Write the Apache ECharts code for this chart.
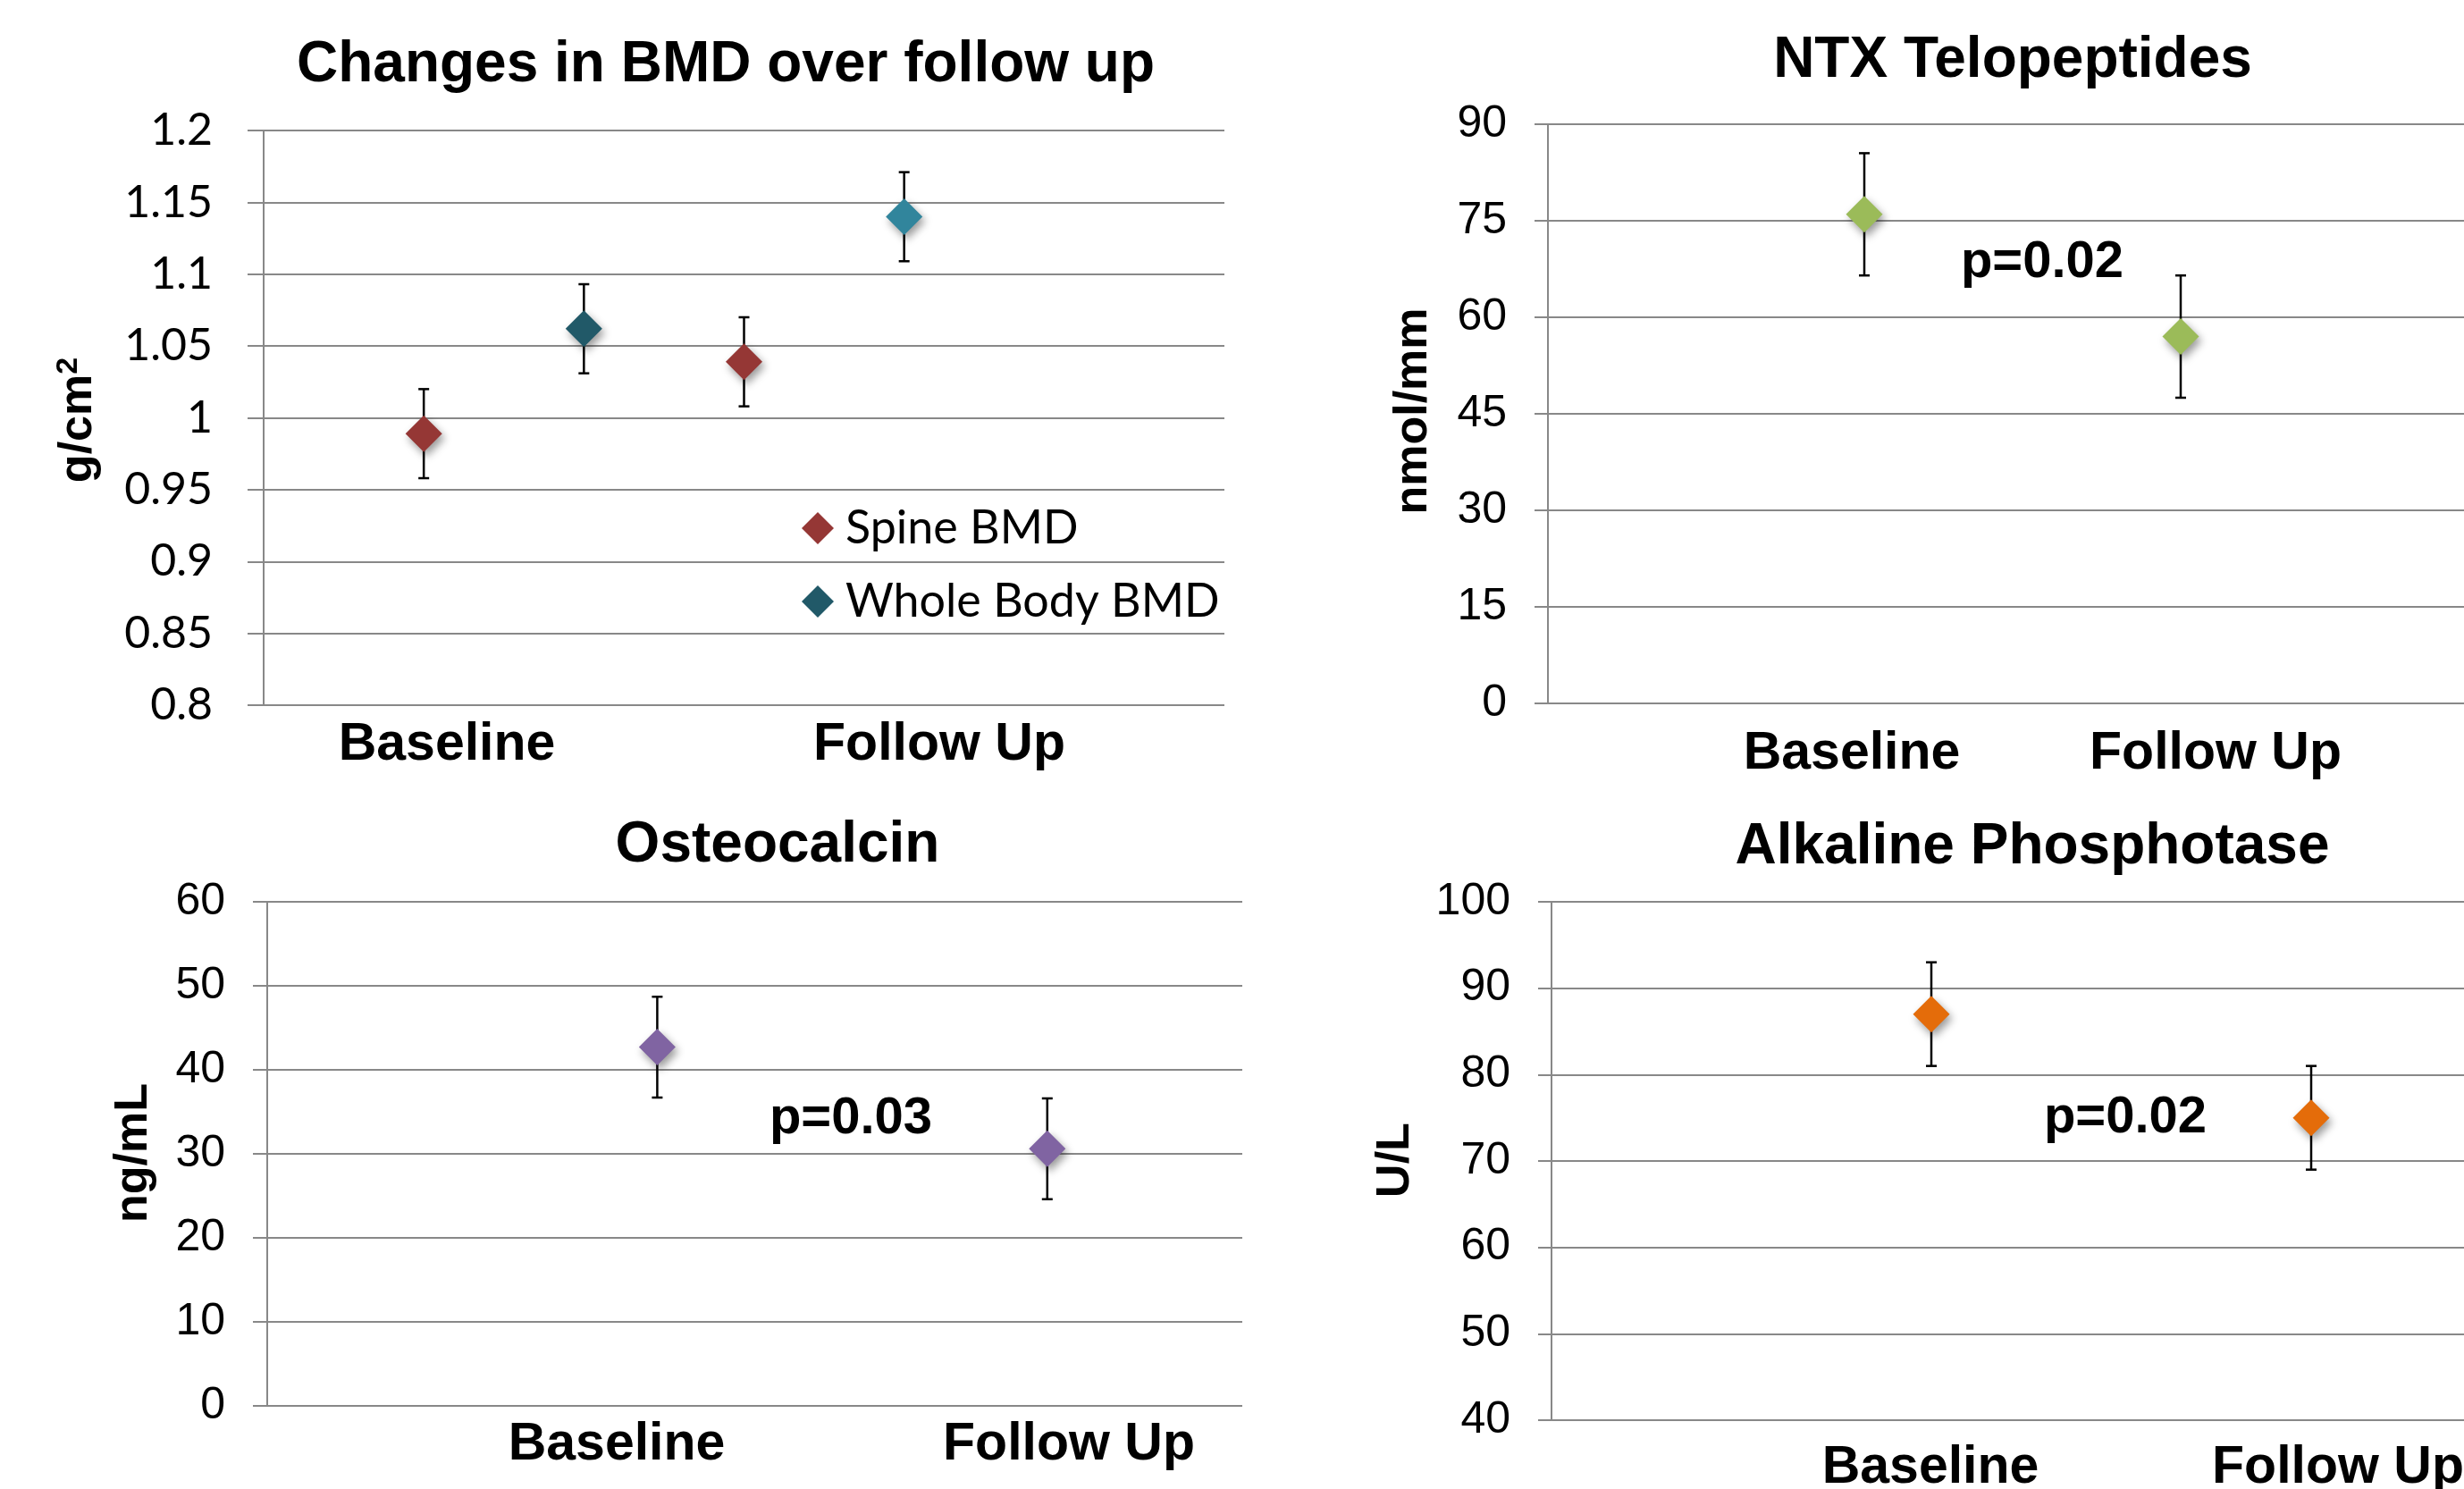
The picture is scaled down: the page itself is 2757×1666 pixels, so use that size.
<!DOCTYPE html>
<html>
<head>
<meta charset="utf-8">
<script src="https://cdn.jsdelivr.net/npm/echarts@6/dist/echarts.min.js"></script>
<style>
html,body{margin:0;padding:0;background:#fff;}
#c{width:2757px;height:1666px;}
</style>
</head>
<body>
<div id="c"></div>
<script>
// ---------------- DATA ----------------
const categories = ['Baseline', 'Follow Up'];

// Panel 1: Changes in BMD over follow up (g/cm²)
const spineMean = [0.989, 1.039];
const spineErr  = [0.031, 0.031];
const wholeMean = [1.062, 1.140];
const wholeErr  = [0.031, 0.031];
const bmdTicks  = [0.8, 0.85, 0.9, 0.95, 1, 1.05, 1.1, 1.15, 1.2];

// Panel 2: NTX Telopeptides (nmol/mm)
const ntxMean = [76, 57];
const ntxErr  = [9.5, 9.5];
const ntxTicks = [0, 15, 30, 45, 60, 75, 90];
const ntxP = 'p=0.02';

// Panel 3: Osteocalcin (ng/mL)
const oscMean = [42.7, 30.6];
const oscErr  = [6, 6];
const oscTicks = [0, 10, 20, 30, 40, 50, 60];
const oscP = 'p=0.03';

// Panel 4: Alkaline Phosphotase (U/L)
const alpMean = [87, 75];
const alpErr  = [6, 6];
const alpTicks = [40, 50, 60, 70, 80, 90, 100];
const alpP = 'p=0.02';

// ---------------- STYLE / LAYOUT ----------------
const ARIAL = '"Liberation Sans", Arial, Helvetica, sans-serif';
const CALIBRI = 'Lato, "Open Sans", sans-serif';
const GRID_COLOR = '#888888';

// panels 2 and 4 run off the right edge of the picture: the visible part of the x range is given
const panels = [
  {grid:{left:295, top:146, width:1075, height:643}, xMax:6, ticks:bmdTicks, labelFont:CALIBRI, labelSize:50, margin:57, tickLen:18},
  {grid:{left:1732, top:139, width:1025, height:648}, xMax:1025/354, ticks:ntxTicks, labelFont:ARIAL, labelSize:50, margin:46, tickLen:15},
  {grid:{left:299, top:1009, width:1091, height:564}, xMax:2.5, ticks:oscTicks, labelFont:ARIAL, labelSize:50, margin:47, tickLen:16},
  {grid:{left:1736, top:1009, width:1021, height:580}, xMax:1021/425, ticks:alpTicks, labelFont:ARIAL, labelSize:50, margin:46, tickLen:15}
];

// x slot positions within each panel
const spineSlots = [1, 3];
const wholeSlots = [2, 4];
const pairSlots = [1, 2];

const colors = {
  spine: '#953735',
  whole: ['#215968', '#31859C'],
  ntx: '#9BBB59',
  osc: '#8064A2',
  alp: '#E46C0A'
};

const shadow = {shadowBlur: 10, shadowColor: 'rgba(0,0,0,0.4)', shadowOffsetX: 3, shadowOffsetY: 5};

function errorBarRender(params, api) {
  const x = api.value(0), lo = api.value(1), hi = api.value(2);
  const top = api.coord([x, hi]);
  const bot = api.coord([x, lo]);
  const hw = 6;
  const st = {stroke: '#000', lineWidth: 2.5};
  return {type: 'group', children: [
    {type: 'line', shape: {x1: top[0], y1: top[1], x2: bot[0], y2: bot[1]}, style: st},
    {type: 'line', shape: {x1: top[0] - hw, y1: top[1], x2: top[0] + hw, y2: top[1]}, style: st},
    {type: 'line', shape: {x1: bot[0] - hw, y1: bot[1], x2: bot[0] + hw, y2: bot[1]}, style: st}
  ]};
}

function errData(slots, mean, err) {
  return mean.map((m, i) => [slots[i], m - err[i], m + err[i]]);
}
function ptData(slots, mean) {
  return mean.map((m, i) => [slots[i], m]);
}

const grids = [], xAxes = [], yAxes = [];
panels.forEach((p, i) => {
  grids.push(Object.assign({containLabel: false}, p.grid));
  xAxes.push({type: 'value', gridIndex: i, min: 0, max: p.xMax, show: false});
  const t = p.ticks;
  yAxes.push({
    type: 'value', gridIndex: i,
    min: t[0], max: t[t.length - 1], interval: t[1] - t[0],
    axisLine: {show: true, lineStyle: {color: GRID_COLOR, width: 2}},
    axisTick: {show: true, length: p.tickLen, lineStyle: {color: GRID_COLOR, width: 2}},
    splitLine: {show: true, lineStyle: {color: GRID_COLOR, width: 2}},
    axisLabel: {
      margin: p.margin, color: '#000', fontFamily: p.labelFont, fontSize: p.labelSize,
      formatter: v => String(Math.round(v * 1000) / 1000)
    }
  });
});

function scatter(name, idx, data, color, perItemColors) {
  return {
    type: 'scatter', name: name, xAxisIndex: idx, yAxisIndex: idx,
    symbol: 'diamond', symbolSize: 41, z: 5,
    data: data.map((d, k) => perItemColors ? {value: d, itemStyle: {color: perItemColors[k]}} : d),
    itemStyle: Object.assign({color: color, opacity: 1}, shadow),
    emphasis: {disabled: true}
  };
}
function errSeries(idx, data) {
  return {
    type: 'custom', xAxisIndex: idx, yAxisIndex: idx, z: 3,
    encode: {x: 0, y: [1, 2]}, renderItem: errorBarRender, data: data, silent: true
  };
}

const series = [
  errSeries(0, errData(spineSlots, spineMean, spineErr)),
  errSeries(0, errData(wholeSlots, wholeMean, wholeErr)),
  scatter('Spine BMD', 0, ptData(spineSlots, spineMean), colors.spine),
  scatter('Whole Body BMD', 0, ptData(wholeSlots, wholeMean), colors.whole[0], colors.whole),
  errSeries(1, errData(pairSlots, ntxMean, ntxErr)),
  scatter('NTX', 1, ptData(pairSlots, ntxMean), colors.ntx),
  errSeries(2, errData(pairSlots, oscMean, oscErr)),
  scatter('Osteocalcin', 2, ptData(pairSlots, oscMean), colors.osc),
  errSeries(3, errData(pairSlots, alpMean, alpErr)),
  scatter('ALP', 3, ptData(pairSlots, alpMean), colors.alp)
];

function txt(x, y, text, size, opts) {
  opts = opts || {};
  const style = {
    text: text, fill: '#000',
    fontSize: size, fontWeight: 'bold', fontFamily: opts.family || ARIAL,
    textAlign: 'center', textVerticalAlign: 'middle'
  };
  if (opts.rich) style.rich = opts.rich;
  return {type: 'text', x: x, y: y, rotation: opts.rot || 0, z: 10, style: style};
}

const titleSize = 64, catSize = 59, axisNameSize = 52, pSize = 58;
const supRich = {
  b: {fontSize: axisNameSize, fontWeight: 'bold', fontFamily: ARIAL},
  s: {fontSize: 34, fontWeight: 'bold', fontFamily: ARIAL, padding: [0, 0, 22, 0]}
};
const graphics = [
  // titles
  txt(812, 73, 'Changes in BMD over follow up', titleSize),
  txt(2252, 68, 'NTX Telopeptides', titleSize),
  txt(870, 946, 'Osteocalcin', titleSize),
  txt(2274, 948, 'Alkaline Phosphotase', titleSize),
  // axis names
  txt(88, 470, '{b|g/cm}{s|2}', axisNameSize, {rot: Math.PI / 2, rich: supRich}),
  txt(1582, 460, 'nmol/mm', axisNameSize, {rot: Math.PI / 2}),
  txt(150, 1290, 'ng/mL', axisNameSize, {rot: Math.PI / 2}),
  txt(1562, 1298, 'U/L', axisNameSize, {rot: Math.PI / 2}),
  // category labels
  txt(500, 834, categories[0], catSize),
  txt(1051, 834, categories[1], catSize),
  txt(2072, 844, categories[0], catSize),
  txt(2479, 844, categories[1], catSize),
  txt(690, 1617, categories[0], catSize),
  txt(1196, 1617, categories[1], catSize),
  txt(2160, 1643, categories[0], catSize),
  txt(2616, 1643, categories[1], catSize),
  // p-values
  txt(2285, 294, ntxP, pSize),
  txt(952, 1252, oscP, pSize),
  txt(2378, 1251, alpP, pSize)
];

const chart = echarts.init(document.getElementById('c'), null, {renderer: 'canvas'});
chart.setOption({
  backgroundColor: '#ffffff',
  animation: false,
  grid: grids,
  xAxis: xAxes,
  yAxis: yAxes,
  legend: {
    data: ['Spine BMD', 'Whole Body BMD'],
    orient: 'vertical', left: 892, top: 556,
    itemWidth: 36, itemHeight: 36, itemGap: 22,
    icon: 'diamond',
    itemStyle: {shadowBlur: 0, shadowOffsetX: 0, shadowOffsetY: 0, shadowColor: 'transparent', opacity: 1},
    textStyle: {fontFamily: CALIBRI, fontSize: 52, color: '#000', lineHeight: 60, padding: [0, 0, 0, 8]},
    selectedMode: false
  },
  graphic: graphics,
  series: series
});
</script>
</body>
</html>
